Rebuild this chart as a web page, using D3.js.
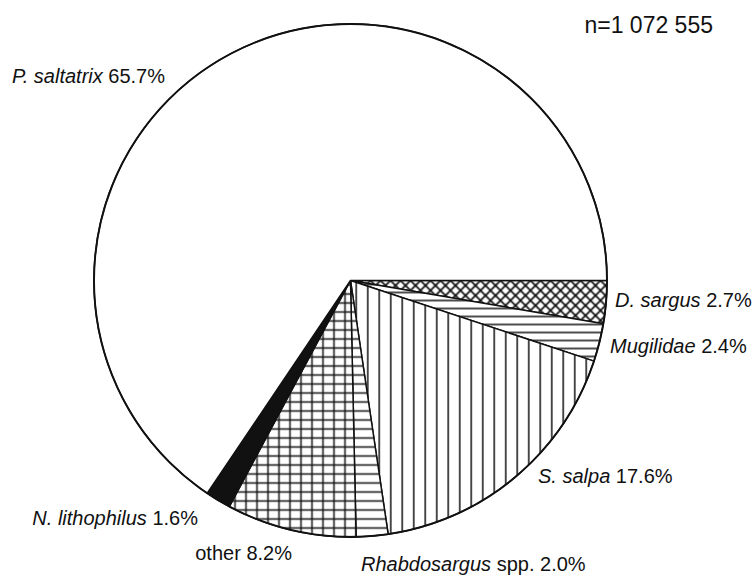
<!DOCTYPE html>
<html>
<head>
<meta charset="utf-8">
<script src="https://cdn.jsdelivr.net/npm/d3@7"></script>
<style>
  body { margin: 0; background: #fff; }
  svg text { font-family: "Liberation Sans", Arial, sans-serif; fill: #111; }
</style>
</head>
<body>
<div id="chart"></div>
<script>
// ---- data (clockwise from 3 o'clock) ----
const species = ["D. sargus", "Mugilidae", "S. salpa", "Rhabdosargus", "other", "N. lithophilus", "P. saltatrix"];
const suffix  = ["", "", "", " spp.", "", "", ""];
const italic  = [true, true, true, true, false, true, true];
const shares  = [2.7, 2.4, 17.6, 2.0, 8.2, 1.6, 65.7];
const fills   = ["xhatch", "hlines8", "vlines", "hlines9", "grid", "solid", "none"];
const totalN  = "n=1 072 555";

// ---- layout ----
const width = 754, height = 576;
const cx = 350.5, cy = 280.5, radius = 256.5;

// label placement (text start / baseline), keyed by category
const labelPos = {
  "D. sargus":      { x: 615, y: 307, anchor: "start" },
  "Mugilidae":      { x: 610, y: 353, anchor: "start" },
  "S. salpa":       { x: 538, y: 483, anchor: "start" },
  "Rhabdosargus":   { x: 361, y: 571, anchor: "start" },
  "other":          { x: 292, y: 560, anchor: "end" },
  "N. lithophilus": { x: 198, y: 525, anchor: "end" },
  "P. saltatrix":   { x: 165, y: 83,  anchor: "end" }
};

const svg = d3.select("#chart")
  .append("svg")
  .attr("width", width)
  .attr("height", height);

// ---- hatch patterns ----
const defs = svg.append("defs");

function linePattern(id, w, h, lines, sw) {
  const p = defs.append("pattern")
    .attr("id", id)
    .attr("patternUnits", "userSpaceOnUse")
    .attr("width", w)
    .attr("height", h);
  p.append("rect").attr("width", w).attr("height", h).attr("fill", "#fff");
  lines.forEach(l => {
    p.append("line")
      .attr("x1", l[0]).attr("y1", l[1]).attr("x2", l[2]).attr("y2", l[3])
      .attr("stroke", "#111")
      .attr("stroke-width", sw || 1.5);
  });
}

linePattern("xhatch", 10, 10, [[0, 0, 10, 10], [0, 10, 10, 0], [-1, 1, 1, -1], [9, 11, 11, 9]], 1.7);
linePattern("hlines8", 10, 8, [[0, 4, 10, 4]]);
linePattern("hlines9", 10, 9, [[0, 4.5, 10, 4.5]]);
linePattern("vlines", 11.5, 10, [[5.75, 0, 5.75, 10]]);
linePattern("grid", 11, 9, [[5.5, 0, 5.5, 9], [0, 4.5, 11, 4.5]]);

function fillFor(f) {
  if (f === "solid") return "#111";
  if (f === "none") return "#fff";
  return "url(#" + f + ")";
}

// ---- pie ----
const slices = species.map((s, i) => ({ name: s, value: shares[i], fill: fills[i], i: i }));

const pie = d3.pie()
  .sort(null)
  .value(d => d.value)
  .startAngle(Math.PI / 2)
  .endAngle(Math.PI / 2 + 2 * Math.PI);

const arc = d3.arc().innerRadius(0).outerRadius(radius);

const g = svg.append("g").attr("transform", "translate(" + cx + "," + cy + ")");

g.selectAll("path.slice")
  .data(pie(slices))
  .enter().append("path")
  .attr("class", "slice")
  .attr("d", arc)
  .attr("fill", d => fillFor(d.data.fill))
  .attr("stroke", "#111")
  .attr("stroke-width", 1.5)
  .attr("stroke-linejoin", "round");

g.append("circle")
  .attr("r", radius)
  .attr("fill", "none")
  .attr("stroke", "#111")
  .attr("stroke-width", 1.9);

// ---- labels ----
const labels = svg.append("g").attr("class", "labels");

slices.forEach(d => {
  const pos = labelPos[d.name];
  const t = labels.append("text")
    .attr("x", pos.x)
    .attr("y", pos.y)
    .attr("text-anchor", pos.anchor)
    .attr("font-size", 20);
  t.append("tspan")
    .attr("font-style", italic[d.i] ? "italic" : "normal")
    .text(d.name);
  t.append("tspan")
    .text(suffix[d.i] + " " + d.value.toFixed(1) + "%");
});

svg.append("text")
  .attr("x", 713)
  .attr("y", 33)
  .attr("text-anchor", "end")
  .attr("font-size", 23)
  .text(totalN);
</script>
</body>
</html>
